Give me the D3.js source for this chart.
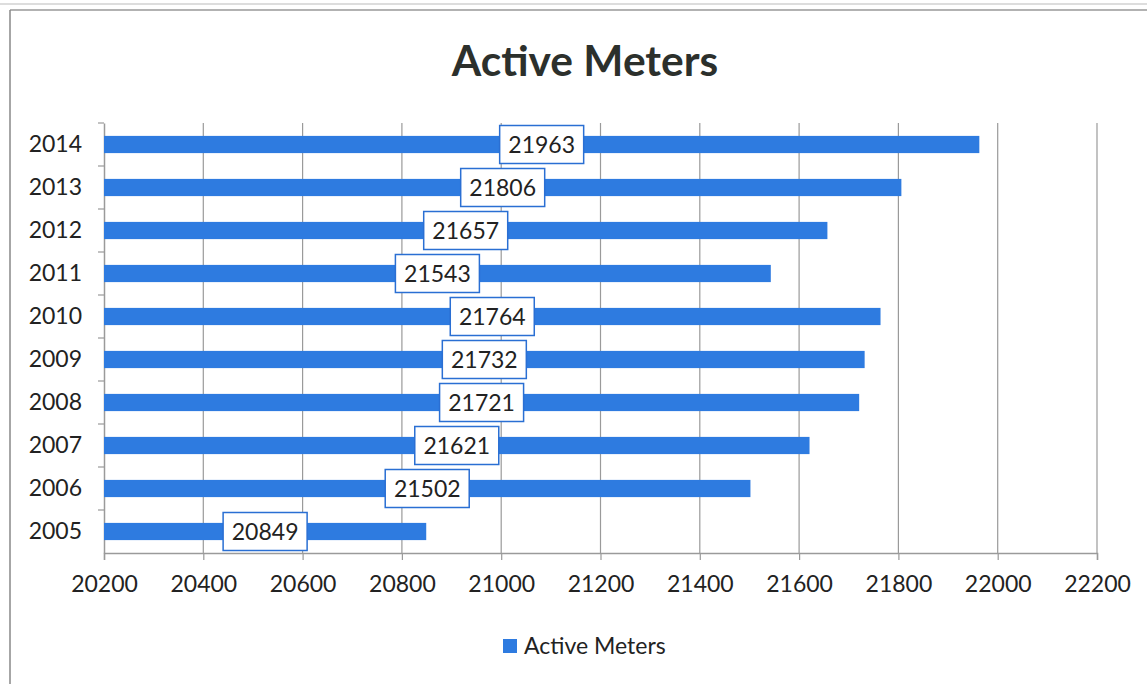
<!DOCTYPE html>
<html>
<head>
<meta charset="utf-8">
<script src="https://cdn.jsdelivr.net/npm/d3@7"></script>
<style>
  body { margin: 0; background: #fff; }
  text { font-family: Lato, "Open Sans", sans-serif; fill: #222; }
</style>
</head>
<body>
<div id="wrapper"></div>
<script>
const years = ["2005", "2006", "2007", "2008", "2009", "2010", "2011", "2012", "2013", "2014"]
const activeMeters = [20849, 21502, 21621, 21721, 21732, 21764, 21543, 21657, 21806, 21963]
const xTicks = [20200, 20400, 20600, 20800, 21000, 21200, 21400, 21600, 21800, 22000, 22200]

const data = years.map((y, i) => ({ year: y, value: activeMeters[i] }))

let dimensions = {
    width: 1147,
    height: 684,
    margin: { top: 123, right: 50, bottom: 131, left: 104 },
}
dimensions.boundedWidth = dimensions.width - dimensions.margin.left - dimensions.margin.right
dimensions.boundedHeight = dimensions.height - dimensions.margin.top - dimensions.margin.bottom

const barColor = "#2e7be0"
const gridColor = "#9a9a9a"
const fontSize = "23px"

const svg = d3.select("#wrapper")
    .append("svg")
    .attr("width", dimensions.width)
    .attr("height", dimensions.height)

// scanned page frame
svg.append("line").attr("x1", 0).attr("x2", 1147).attr("y1", 4).attr("y2", 4)
    .attr("stroke", "#bbb").attr("stroke-width", 1)
svg.append("line").attr("x1", 10).attr("x2", 1147).attr("y1", 10).attr("y2", 10)
    .attr("stroke", "#999").attr("stroke-width", 1.5)
svg.append("line").attr("x1", 10).attr("x2", 10).attr("y1", 10).attr("y2", 684)
    .attr("stroke", "#888").attr("stroke-width", 1.5)

svg.append("text")
    .attr("x", 585)
    .attr("y", 76)
    .attr("text-anchor", "middle")
    .style("font-size", "42.5px")
    .style("font-weight", "bold")
    .style("fill", "#2c302c")
    .text("Active Meters")

const bounds = svg.append("g")
    .attr("transform", `translate(${dimensions.margin.left}, ${dimensions.margin.top})`)

const xScale = d3.scaleLinear()
    .domain([20200, 22200])
    .range([0, dimensions.boundedWidth])

const yScale = d3.scaleBand()
    .domain(years.slice().reverse())
    .range([0, dimensions.boundedHeight])
    .padding(0)

const barH = yScale.step() * 0.4

// vertical gridlines
bounds.append("g")
    .selectAll("line")
    .data(xTicks.slice(1))
    .enter()
    .append("line")
    .attr("x1", d => xScale(d))
    .attr("x2", d => xScale(d))
    .attr("y1", 0)
    .attr("y2", dimensions.boundedHeight)
    .attr("stroke", gridColor)
    .attr("stroke-width", 1.2)

// x axis
const xAxis = d3.axisBottom(xScale)
    .tickValues(xTicks)
    .tickSize(7)
    .tickPadding(16)
    .tickFormat(d3.format("d"))
const xAxisG = bounds.append("g")
    .attr("transform", `translate(0, ${dimensions.boundedHeight})`)
    .call(xAxis)
xAxisG.select(".domain").attr("stroke", gridColor).attr("stroke-width", 1.5)
xAxisG.selectAll(".tick line").attr("stroke", gridColor).attr("stroke-width", 1.2)
xAxisG.selectAll("text")
    .style("font-size", fontSize)
    .style("font-family", "Lato, 'Open Sans', sans-serif")
    .attr("fill", "#222")

// y axis
const yAxis = d3.axisLeft(yScale).tickSize(0).tickPadding(22)
const yAxisG = bounds.append("g").call(yAxis)
yAxisG.select(".domain").attr("stroke", gridColor).attr("stroke-width", 1.5)
yAxisG.selectAll("text")
    .style("font-size", fontSize)
    .style("font-family", "Lato, 'Open Sans', sans-serif")
    .attr("fill", "#222")
// small category separators on the y axis
bounds.append("g")
    .selectAll("line")
    .data(years)
    .enter()
    .append("line")
    .attr("x1", -6)
    .attr("x2", 0)
    .attr("y1", d => yScale(d))
    .attr("y2", d => yScale(d))
    .attr("stroke", gridColor)
    .attr("stroke-width", 1.2)

// bars
bounds.append("g")
    .selectAll("rect")
    .data(data)
    .enter()
    .append("rect")
    .attr("x", 0)
    .attr("y", d => yScale(d.year) + (yScale.step() - barH) / 2)
    .attr("width", d => xScale(d.value))
    .attr("height", barH)
    .attr("fill", barColor)

// data labels, centered on each bar
const labels = bounds.append("g")
    .selectAll("g")
    .data(data)
    .enter()
    .append("g")
    .attr("transform", d => `translate(${xScale(d.value) / 2}, ${yScale(d.year) + yScale.step() / 2})`)

labels.append("rect")
    .attr("x", -42)
    .attr("y", -19)
    .attr("width", 84)
    .attr("height", 38)
    .attr("fill", "#fff")
    .attr("stroke", "#2a6fd3")
    .attr("stroke-width", 1.5)

labels.append("text")
    .attr("text-anchor", "middle")
    .attr("dy", "0.36em")
    .style("font-size", fontSize)
    .text(d => d.value)

// legend
const legend = svg.append("g").attr("transform", "translate(503, 646)")
legend.append("rect")
    .attr("x", 0).attr("y", -7)
    .attr("width", 14).attr("height", 14)
    .attr("fill", barColor)
legend.append("text")
    .attr("x", 21)
    .attr("dy", "0.36em")
    .style("font-size", fontSize)
    .text("Active Meters")
</script>
</body>
</html>
